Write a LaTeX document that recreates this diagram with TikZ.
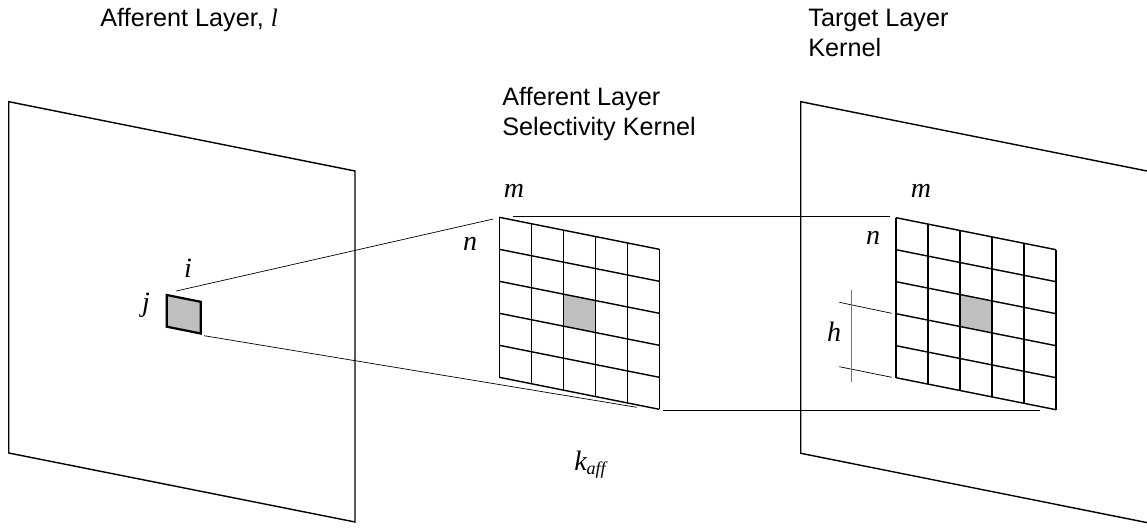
\documentclass[tikz,border=0pt]{standalone}
\usepackage{fontspec}
\setmainfont{Liberation Sans}
\newfontfamily\varfont{Liberation Serif}
\begin{document}
\begin{tikzpicture}[x=0.5pt,y=-0.5pt,
  panel/.style={line width=0.7pt, line join=miter},
  gridline/.style={line width=0.7pt},
  link/.style={line width=0.35pt},
  cellfill/.style={fill=black!25},
  title/.style={font=\fontsize{12.6}{15}\selectfont, inner sep=0pt, align=left, anchor=base west},
  var/.style={font=\fontsize{14}{16}\selectfont\varfont\itshape, inner sep=0pt}]
\useasboundingbox (0,0) rectangle (1147,529);
\clip (0,0) rectangle (1147,529);

% layer planes
\draw[panel] (8.7,101.7) coordinate (L-tl) -- (355,171) -- (355,522) -- (8.7,453) coordinate (L-bl) -- cycle;
\draw[panel] (1170,175.6) -- (800.7,101.7) coordinate (R-tl) -- (800.7,453.3) coordinate (R-bl) -- (1170,527.2);

% unit (i,j) on the afferent layer
\draw[line width=1.1pt, cellfill] (166.7,295) coordinate (u-tl) -- (200.7,301.8) -- (200.7,333.5) coordinate (u-br) -- (166.7,326.7) -- cycle;

% a 5x5 kernel grid drawn in a sheared frame
\newcommand\kernelgrid[2]{%
  \begin{scope}[shift={(#2)}, x={(16pt,-3.2pt)}, y={(0pt,-16pt)}]
    \fill[cellfill] (2,2) -- (3,2) -- (3,3) -- (2,3) -- cycle;
    \foreach \k in {0,...,5} {
      \draw[gridline] (\k,0) -- (\k,5);
      \draw[gridline] (0,\k) -- (5,\k);
    }
    \coordinate (#1-tl) at (0,0);
    \coordinate (#1-br) at (5,5);
  \end{scope}}
\kernelgrid{A}{499.3,217.3}
\kernelgrid{T}{896,217.7}

% projection lines
\coordinate (p1) at (176.3,291);
\coordinate (p2) at (493.3,219);
\coordinate (p3) at (204,335.7);
\coordinate (p4) at (636.7,407.3);
\coordinate (q1) at (512.7,216.7);
\coordinate (q2) at (890,216.7);
\coordinate (q3) at (663.3,410);
\coordinate (q4) at (1040,410);
\draw[link] (p1) -- (p2);
\draw[link] (p3) -- (p4);
\draw[link] (q1) -- (q2);
\draw[link] (q3) -- (q4);

% dimension h
\coordinate (h1) at (839.3,302.3);
\coordinate (h2) at (891.7,313.3);
\coordinate (h3) at (839.3,366.7);
\coordinate (h4) at (891.7,377.3);
\coordinate (hv1) at (851.7,290);
\coordinate (hv2) at (851.7,382);
\draw[link] (h1) -- (h2);
\draw[link] (h3) -- (h4);
\draw[line width=0.5pt, black!55] (hv1) -- (hv2);

% titles (base = baseline of the last line)
\node[title] (tA) at (100,27) {Afferent Layer, {\varfont\itshape l}};
\node[title] (tS) at (502,136) {Afferent Layer\\Selectivity Kernel};
\node[title] (tT) at (808,57) {Target Layer\\Kernel};

% index labels
\node[var] (li) at (188,268) {i};
\node[var] (lj) at (146,305) {j};
\node[var] (lmA) at (514,191) {m};
\node[var] (lnA) at (470,244) {n};
\node[var] (lmT) at (921,191) {m};
\node[var] (lnT) at (873,238) {n};
\node[var] (lh) at (834,332) {h};
\node[var] (lk) at (590,465) {k\raisebox{-0.3ex}{\fontsize{9}{10}\selectfont aff}};
\end{tikzpicture}
\end{document}
